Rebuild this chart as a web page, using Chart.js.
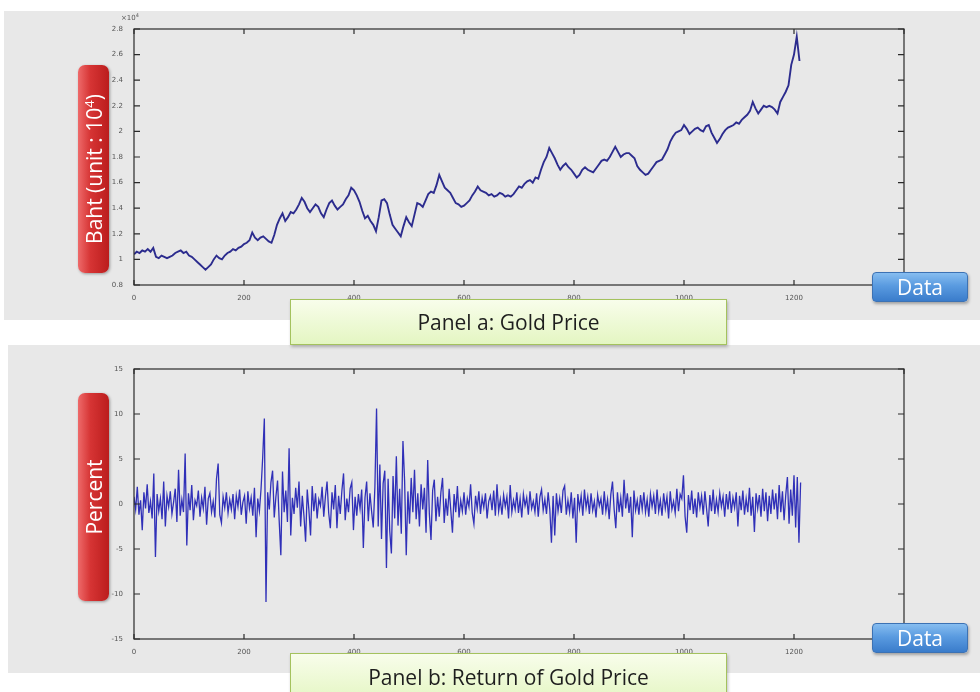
<!DOCTYPE html>
<html>
<head>
<meta charset="utf-8">
<script src="https://cdn.jsdelivr.net/npm/chart.js@4.4.0/dist/chart.umd.min.js"></script>
<style>
  body { margin:0; width:980px; height:692px; background:#fff; position:relative; overflow:hidden; font-family:"Open Sans","Noto Sans",sans-serif; }
  .panel { position:absolute; background:#e8e8e8; }
  canvas.plot { position:absolute; }
  .ylab { position:absolute; left:78px; width:31px; border-radius:7px;
          background:linear-gradient(to right,#ee6a6a,#d63434 40%,#bb1d1d);
          box-shadow:1px 1px 3px rgba(0,0,0,.35); }
  .ylab span { position:absolute; left:50%; top:50%; transform:translate(-50%,-50%) rotate(-90deg);
               white-space:nowrap; color:#fff; font-size:21px; }
  .tag { position:absolute; left:872px; width:96px; height:30px; border-radius:4px; box-sizing:border-box;
         border:1px solid #3c72b4; background:linear-gradient(to bottom,#86bdf0,#5a9be0 45%,#3a7ccb);
         box-shadow:1px 2px 3px rgba(0,0,0,.3); color:#fff; font-size:21px; line-height:28px; text-align:center; }
  .title { position:absolute; left:290px; width:437px; box-sizing:border-box; border:1px solid #a4c25e;
           background:linear-gradient(to bottom,#f8fdeb,#e4f6c2); box-shadow:1px 2px 3px rgba(0,0,0,.25);
           color:#1e1e1e; font-size:21px; text-align:center; }
  .exp { position:absolute; left:121px; top:12px; font:7px "DejaVu Sans",sans-serif; color:#555; }
  .exp sup { font-size:5px; }
</style>
</head>
<body>
<div class="panel" style="left:4px;top:11px;width:976px;height:309px;"></div>
<div class="panel" style="left:8px;top:345px;width:972px;height:328px;"></div>

<canvas id="priceChart" class="plot" width="814" height="290" style="left:100px;top:20px;"></canvas>
<canvas id="returnChart" class="plot" width="814" height="304" style="left:100px;top:360px;"></canvas>
<div class="exp">&times;10<sup>4</sup></div>

<div class="ylab" style="top:65px;height:208px;"><span>Baht (unit : 10<sup style="font-size:13px">4</sup>)</span></div>
<div class="ylab" style="top:393px;height:208px;"><span>Percent</span></div>
<div class="tag" style="top:272px;">Data</div>
<div class="tag" style="top:623px;">Data</div>
<div class="title" style="top:299px;height:46px;line-height:44px;">Panel a: Gold Price</div>
<div class="title" style="top:653px;height:50px;line-height:46px;">Panel b: Return of Gold Price</div>

<script>
// gold price (baht, x10^4), one value every 5 trading days
const priceStep = 5;
const priceValues = [
  1.04, 1.06, 1.05, 1.07, 1.06, 1.08, 1.06, 1.09, 1.02, 1.01,
  1.03, 1.02, 1.01, 1.02, 1.03, 1.05, 1.06, 1.07, 1.05, 1.06,
  1.03, 1.02, 1.00, 0.98, 0.96, 0.94, 0.92, 0.94, 0.96, 1.00,
  1.03, 1.01, 1.00, 1.03, 1.05, 1.06, 1.08, 1.07, 1.09, 1.10,
  1.12, 1.13, 1.15, 1.21, 1.17, 1.15, 1.17, 1.18, 1.16, 1.14,
  1.13, 1.19, 1.27, 1.32, 1.36, 1.30, 1.33, 1.37, 1.36, 1.39,
  1.43, 1.48, 1.45, 1.40, 1.37, 1.40, 1.43, 1.41, 1.36, 1.33,
  1.39, 1.44, 1.46, 1.42, 1.39, 1.41, 1.43, 1.47, 1.50, 1.56,
  1.54, 1.50, 1.45, 1.38, 1.32, 1.34, 1.30, 1.27, 1.22, 1.33,
  1.46, 1.47, 1.44, 1.35, 1.27, 1.24, 1.21, 1.18, 1.26, 1.33,
  1.29, 1.26, 1.35, 1.44, 1.43, 1.41, 1.46, 1.51, 1.53, 1.52,
  1.58, 1.66, 1.61, 1.56, 1.54, 1.52, 1.48, 1.44, 1.43, 1.41,
  1.42, 1.44, 1.46, 1.50, 1.53, 1.57, 1.54, 1.53, 1.52, 1.50,
  1.51, 1.49, 1.50, 1.52, 1.51, 1.49, 1.50, 1.49, 1.51, 1.54,
  1.57, 1.56, 1.59, 1.61, 1.62, 1.60, 1.64, 1.63, 1.70, 1.76,
  1.80, 1.87, 1.83, 1.79, 1.74, 1.70, 1.73, 1.75, 1.72, 1.70,
  1.67, 1.64, 1.66, 1.70, 1.72, 1.70, 1.69, 1.68, 1.71, 1.74,
  1.77, 1.78, 1.77, 1.80, 1.84, 1.88, 1.84, 1.80, 1.82, 1.83,
  1.83, 1.81, 1.79, 1.73, 1.70, 1.68, 1.66, 1.67, 1.70, 1.73,
  1.76, 1.77, 1.78, 1.82, 1.86, 1.92, 1.96, 1.99, 2.00, 2.01,
  2.05, 2.02, 1.98, 2.00, 2.02, 2.03, 2.01, 2.00, 2.04, 2.05,
  1.99, 1.95, 1.91, 1.94, 1.98, 2.01, 2.03, 2.04, 2.05, 2.07,
  2.06, 2.09, 2.11, 2.13, 2.16, 2.23, 2.18, 2.14, 2.17, 2.20,
  2.19, 2.20, 2.19, 2.17, 2.14, 2.23, 2.27, 2.31, 2.36, 2.52,
  2.60, 2.74, 2.55
];

// daily return (%), one value every 3 trading days
const returnStep = 3;
const returnValues = [
  0.8, -0.6, 1.9, -1.2, 0.4, -2.9, 1.3, -0.5, 2.2, -1.0,
  0.3, -1.6, 3.4, -5.9, 1.1, -0.8, 0.6, -1.7, 2.5, -2.5,
  0.9, -0.3, 1.4, -1.1, 0.2, 1.7, -2.0, 3.8, -1.3, 0.5,
  -0.9, 5.6, -4.6, 1.2, -0.7, 2.1, -1.8, 0.4, -0.2, 1.5,
  -1.4, 0.7, -0.5, 1.9, -2.3, 0.6, 1.2, -0.9, 0.3, -1.5,
  2.8, 4.5, -1.2, -2.1, 0.8, -0.4, 1.3, -1.0, 0.5, -0.6,
  1.1, -1.7, 0.9, -0.3, 1.6, -1.2, 0.2, 0.9, -2.2, 1.4,
  -0.5, 0.7, -1.3, 1.8, -3.7, 0.6, -0.8, 1.7, 5.2, 9.5,
  -10.9, 1.3, -0.6, 2.4, 3.7, -1.5, 0.8, 2.6, -1.9, -5.7,
  3.6, -0.9, 1.5, -2.0, 6.2, -3.5, 0.7, -1.1, 1.8, -0.4,
  2.5, -2.5, 0.9, -1.3, -4.2, 1.6, -0.7, -3.5, 2.0, -0.8,
  1.2, -1.6, 0.5, -0.2, 1.9, -1.4, 0.8, 2.5, -1.0, -2.7,
  1.3, -0.6, 2.1, -2.7, 0.9, -1.1, 1.5, 3.4, -1.8, 0.6,
  -0.9, 1.7, 2.4, -2.9, 0.8, -1.3, 1.1, -0.5, 1.6, -4.9,
  0.7, 2.5, -1.9, 1.2, -0.8, -2.6, 1.9, 10.6, -2.5, 4.4,
  -3.9, 2.3, 3.7, -7.1, 2.8, -3.0, -5.5, 3.1, -1.6, 5.3,
  -2.4, 1.7, -3.3, 7.0, 2.6, -5.7, 1.4, -2.2, 2.9, -0.9,
  3.8, -1.7, 1.2, -2.5, 2.2, -0.6, 1.8, -3.2, 4.9, -1.1,
  -4.0, 1.5, 2.7, -1.9, 0.8, -1.4, 1.3, 2.9, -2.1, 0.6,
  -1.3, 1.7, -0.7, -3.2, 1.1, -0.9, 2.0, -1.5, 0.4, -0.8,
  1.3, -1.2, 0.6, -0.3, 2.2, -1.0, -2.2, 0.9, -0.5, 1.4,
  -1.1, 0.7, -0.4, 1.2, -1.6, 0.3, 0.9, -0.7, 1.5, -1.3,
  2.2, -0.8, 0.5, -1.2, 1.0, -0.3, 0.8, -1.6, 2.1, -0.9,
  0.4, -0.6, 1.3, -1.0, 0.6, -1.5, 1.1, -0.2, 0.7, -1.2,
  1.4, -0.5, 0.3, -0.9, 1.2, -1.4, 0.8, 1.6, -0.7, 0.5,
  -1.1, 1.3, -0.6, -4.3, 0.9, -3.5, 1.2, -0.8, 0.6, -1.0,
  1.5, 2.0, -1.2, 0.4, -0.9, 1.3, -1.6, 0.7, -4.3, 1.1,
  -0.5, 0.9, -1.3, 1.6, -0.4, 0.8, -1.1, 1.2, -0.7, 0.3,
  -1.5, 1.0, -0.2, 0.6, -1.2, 1.4, -0.8, 0.5, -1.7, 1.1,
  2.5, -0.6, -2.7, 1.3, -0.9, 0.7, -1.4, 2.7, -0.5, 1.2,
  -1.0, 0.8, -3.7, 1.5, -0.7, 0.4, -1.2, 1.0, -0.6, 1.3,
  -0.9, 0.5, -1.4, 1.1, -0.3, 0.9, -1.1, 1.6, -0.8, 0.4,
  -1.3, 1.2, -0.5, 0.8, -1.6, 1.4, -0.6, 0.3, -1.0, 1.7,
  -0.8, 1.1, 0.6, 3.2, -1.4, -3.2, 1.0, -0.7, 1.5, -1.1,
  0.6, -1.5, 1.3, -0.4, 0.9, -1.2, 1.4, -0.5, -2.5, 1.0,
  -0.8, 1.6, -1.1, 0.5, -0.9, 1.2, -0.3, 0.8, -1.4, 1.1,
  -0.6, 1.4, -1.0, 0.7, -0.4, 1.3, -2.5, 0.9, -0.7, 1.5,
  -1.2, 0.6, -0.9, 1.8, -1.3, 0.8, -3.1, 1.2, -0.5, 1.0,
  -1.4, 1.7, -0.8, 1.3, -1.9, 0.9, -1.1, 1.6, -0.6, 1.2,
  -1.7, 2.1, -0.9, 1.4, -1.8, 1.0, 3.0, -2.2, 1.6, -1.3,
  3.2, -2.6, 3.0, -4.3, 2.4
];

const tickFont = { family: 'DejaVu Sans', size: 7 };
const tickColor = '#555';

// matlab-like axes box with inward ticks on all four sides
const boxAxes = {
  id: 'boxAxes',
  afterDraw(chart) {
    const { ctx, chartArea: a, scales } = chart;
    ctx.save();
    ctx.strokeStyle = '#2a2a2a';
    ctx.lineWidth = 1.2;
    ctx.strokeRect(a.left, a.top, a.right - a.left, a.bottom - a.top);
    ctx.beginPath();
    scales.x.ticks.forEach(t => {
      const px = scales.x.getPixelForValue(t.value);
      ctx.moveTo(px, a.bottom); ctx.lineTo(px, a.bottom - 5);
      ctx.moveTo(px, a.top); ctx.lineTo(px, a.top + 5);
    });
    scales.y.ticks.forEach(t => {
      const py = scales.y.getPixelForValue(t.value);
      ctx.moveTo(a.left, py); ctx.lineTo(a.left + 6, py);
      ctx.moveTo(a.right, py); ctx.lineTo(a.right - 6, py);
    });
    ctx.stroke();
    ctx.restore();
  }
};

function makeChart(id, step, values, color, width, yMin, yMax, yStep) {
  const points = values.map((v, i) => ({ x: i * step, y: v }));
  return new Chart(document.getElementById(id), {
    type: 'line',
    data: { datasets: [{ data: points, borderColor: color, borderWidth: width, pointRadius: 0, tension: 0 }] },
    options: {
      responsive: false,
      animation: false,
      layout: { padding: { top: 9, right: 10 } },
      plugins: { legend: { display: false }, tooltip: { enabled: false } },
      scales: {
        x: {
          type: 'linear', min: 0, max: 1400,
          grid: { display: false }, border: { display: false },
          // the last label sits under the "Data" tag, so leave it blank
          ticks: { stepSize: 200, font: tickFont, color: tickColor, padding: 1, maxRotation: 0,
                   callback: v => (v === 1400 ? '' : String(v)) },
          afterFit: s => { s.height = 25; }
        },
        y: {
          min: yMin, max: yMax,
          grid: { display: false }, border: { display: false },
          ticks: { stepSize: yStep, font: tickFont, color: tickColor, padding: 3,
                   callback: v => String(+v.toFixed(1)) },
          afterFit: s => { s.width = 34; }
        }
      }
    },
    plugins: [boxAxes]
  });
}

makeChart('priceChart', priceStep, priceValues, '#2c2c8e', 1.9, 0.8, 2.8, 0.2);
makeChart('returnChart', returnStep, returnValues, '#3030b8', 1.3, -15, 15, 5);
</script>
</body>
</html>
